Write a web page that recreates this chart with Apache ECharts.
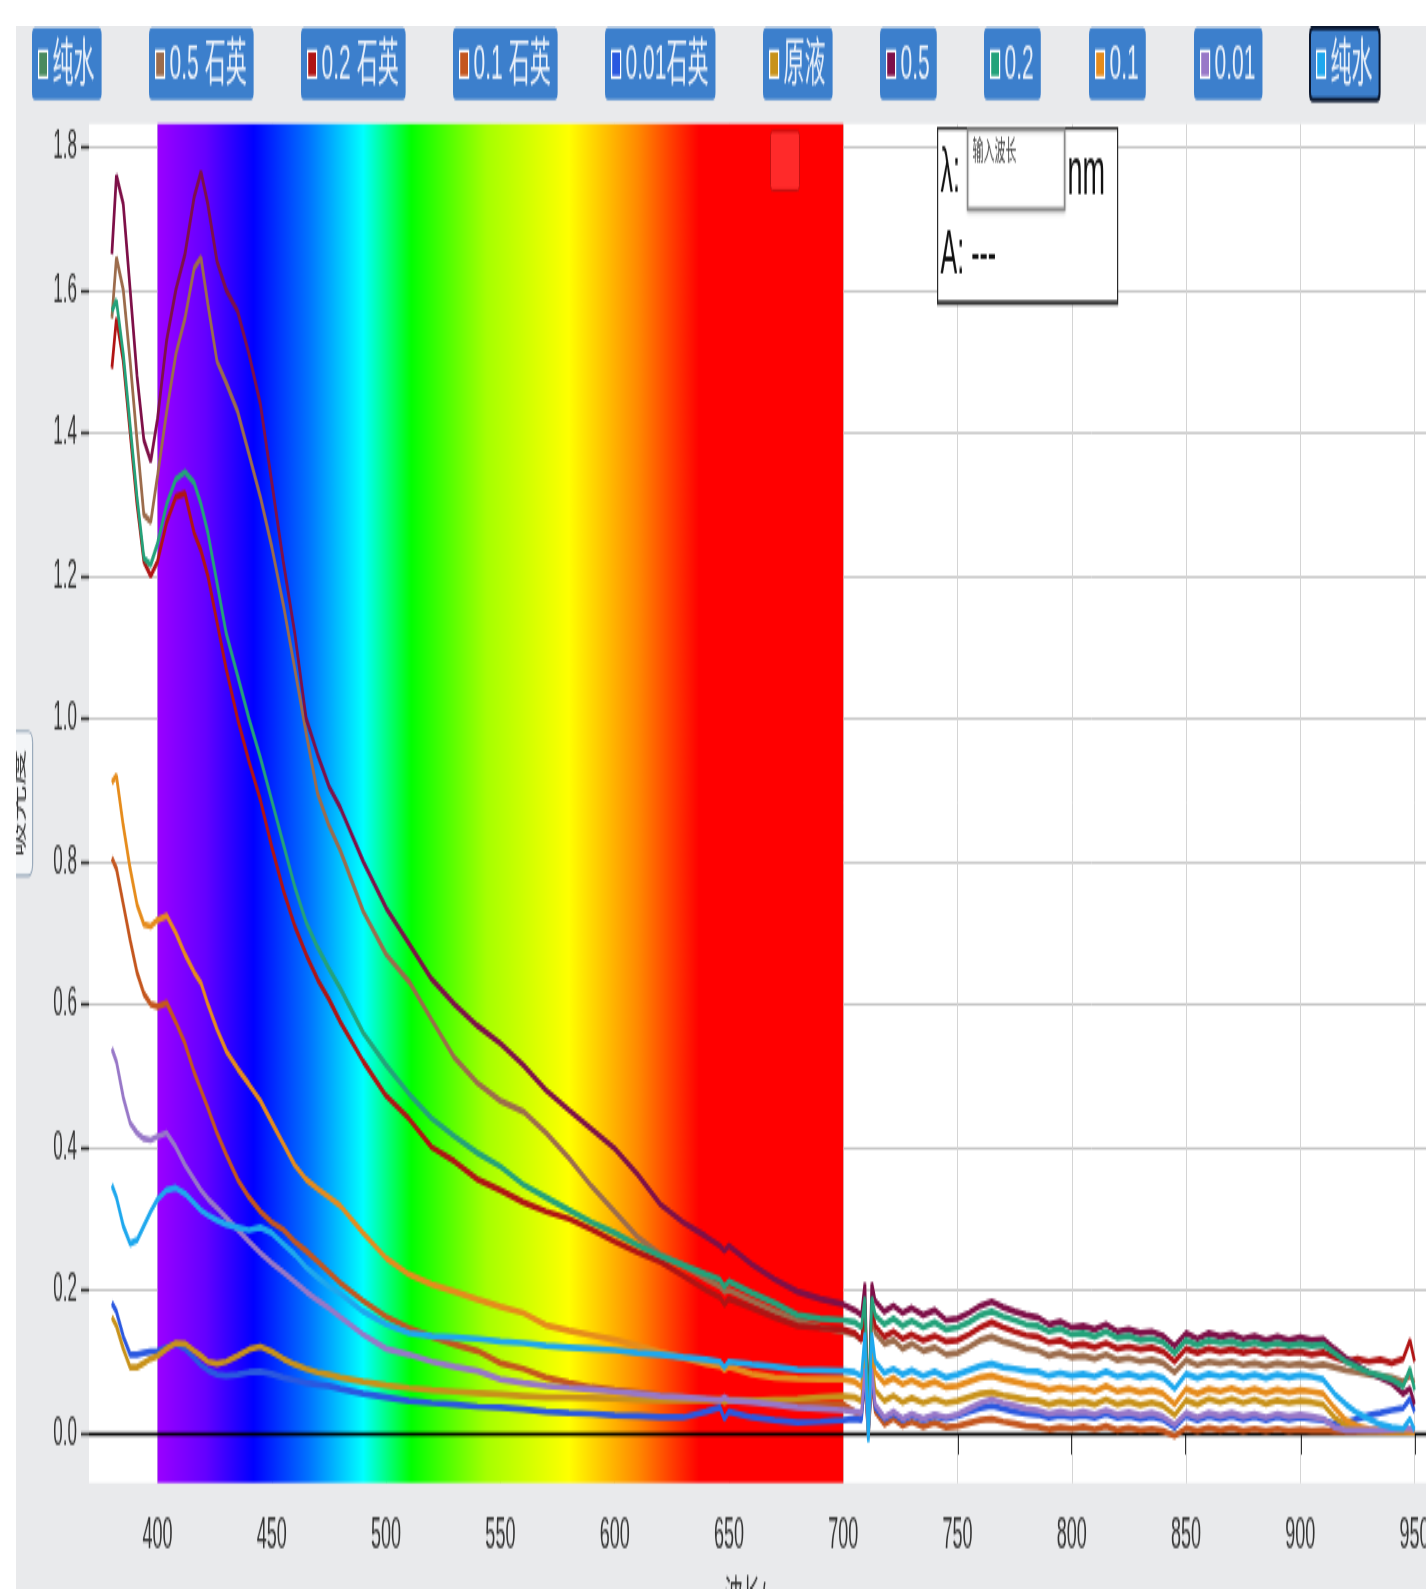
<!DOCTYPE html>
<html><head><meta charset="utf-8">
<script src="https://cdn.jsdelivr.net/npm/echarts@6/dist/echarts.min.js"></script>
<style>
html,body{margin:0;padding:0;background:#fff;width:1426px;height:1589px;overflow:hidden;}
#panel{position:absolute;left:16px;top:26px;width:1410px;height:1563px;background:#e9eaec;overflow:hidden;}
#chart{position:absolute;left:0;top:0;width:1410px;height:651px;transform:scaleY(2.40092);transform-origin:0 0;}
</style></head><body><div id="panel"><div id="chart"></div></div>
<script>
const FONT = '"Liberation Sans","Noto Sans CJK SC",sans-serif';

// wavelength sampling (nm)
const wavelengths = [
380,382,385,388,391,394,397,400,404,408,
412,416,419,422,426,430,435,440,445,450,
455,460,465,470,475,480,490,500,510,520,
530,540,550,560,570,580,590,600,610,620,
630,640,646,648,650,660,670,680,690,700,
705,708,709.5,711,712.5,714,718,722,726,730,
735,740,745,750,755,760,765,770,775,780,
785,790,795,800,805,810,815,820,825,830,
835,840,845,850,855,860,865,870,875,880,
885,890,895,900,905,910,915,920,925,930,
935,940,945,948,950];

const seriesNames = ['纯水','0.5 石英','0.2 石英','0.1 石英','0.01石英','原液','0.5','0.2','0.1','0.01','纯水 '];
const seriesColors = ['#4a8a5e','#9c6c4c','#b01414','#c4561e','#2a58e0','#c8921a','#7e1048','#24a27a','#e68c1c','#9878c8','#1ea8ee'];

const absWater1 = [];
const absQuartz05 = [
1.56,1.645,1.60,1.50,1.39,1.285,1.275,1.34,1.43,1.51,
1.56,1.63,1.645,1.58,1.50,1.47,1.43,1.37,1.31,1.24,
1.16,1.07,0.98,0.895,0.85,0.815,0.73,0.67,0.632,0.578,
0.525,0.49,0.465,0.45,0.42,0.385,0.345,0.31,0.275,0.25,
0.235,0.215,0.205,0.198,0.2,0.185,0.17,0.157,0.148,0.142,
0.138,0.13,0.16,0.01,0.165,0.14,0.125,0.13,0.118,0.125,
0.115,0.12,0.11,0.112,0.12,0.13,0.135,0.128,0.124,0.118,
0.116,0.108,0.112,0.106,0.108,0.104,0.11,0.102,0.105,0.1,
0.103,0.098,0.085,0.102,0.095,0.1,0.097,0.1,0.095,0.098,
0.094,0.098,0.095,0.097,0.094,0.096,0.092,0.088,0.085,0.082,
0.08,0.078,0.072,0.08,0.07];
const absQuartz02 = [
1.49,1.56,1.50,1.40,1.30,1.22,1.20,1.22,1.275,1.31,
1.315,1.26,1.235,1.20,1.135,1.07,1.00,0.94,0.886,0.82,
0.76,0.71,0.67,0.635,0.607,0.575,0.52,0.472,0.44,0.40,
0.38,0.355,0.34,0.323,0.31,0.30,0.285,0.268,0.253,0.24,
0.22,0.2,0.19,0.18,0.188,0.175,0.162,0.15,0.147,0.145,
0.14,0.13,0.18,0.005,0.18,0.15,0.135,0.142,0.132,0.138,
0.13,0.136,0.128,0.13,0.138,0.148,0.155,0.148,0.142,0.137,
0.135,0.127,0.13,0.122,0.125,0.12,0.126,0.118,0.121,0.117,
0.12,0.114,0.1,0.118,0.112,0.118,0.114,0.117,0.112,0.116,
0.111,0.115,0.112,0.114,0.11,0.113,0.106,0.1,0.104,0.1,
0.103,0.098,0.104,0.13,0.1];
const absQuartz01 = [
0.805,0.79,0.74,0.69,0.645,0.615,0.60,0.597,0.602,0.575,
0.545,0.505,0.48,0.455,0.42,0.39,0.355,0.33,0.31,0.295,
0.285,0.268,0.255,0.24,0.225,0.21,0.185,0.163,0.147,0.135,
0.124,0.115,0.098,0.09,0.078,0.07,0.064,0.06,0.057,0.053,
0.05,0.048,0.047,0.044,0.047,0.046,0.045,0.043,0.041,0.04,
0.03,0.025,0.07,-0.005,0.07,0.03,0.012,0.02,0.01,0.016,
0.009,0.015,0.008,0.01,0.014,0.018,0.02,0.016,0.013,0.01,
0.009,0.005,0.008,0.006,0.009,0.005,0.01,0.004,0.007,0.004,
0.006,0.003,-0.004,0.007,0.003,0.007,0.004,0.007,0.003,0.006,
0.003,0.006,0.003,0.005,0.003,0.004,0.002,0.002,0.002,0.002,
0.002,0.002,0.002,0.002,0.002];
const absQuartz001 = [
0.182,0.17,0.135,0.11,0.11,0.112,0.114,0.115,0.12,0.125,
0.118,0.105,0.095,0.088,0.082,0.08,0.082,0.085,0.086,0.083,
0.078,0.074,0.07,0.068,0.066,0.062,0.055,0.05,0.045,0.042,
0.04,0.037,0.036,0.033,0.03,0.028,0.027,0.025,0.024,0.022,
0.022,0.03,0.036,0.02,0.03,0.022,0.018,0.015,0.016,0.018,
0.02,0.018,0.08,-0.004,0.08,0.035,0.02,0.027,0.018,0.025,
0.018,0.024,0.02,0.024,0.03,0.035,0.038,0.034,0.03,0.027,
0.026,0.021,0.025,0.022,0.025,0.021,0.027,0.021,0.024,0.02,
0.023,0.019,0.008,0.024,0.018,0.024,0.02,0.024,0.019,0.023,
0.018,0.023,0.019,0.022,0.02,0.018,0.012,0.015,0.02,0.025,
0.028,0.032,0.035,0.048,0.03];
const absStock = [
0.162,0.15,0.118,0.092,0.092,0.098,0.104,0.108,0.118,0.126,
0.125,0.115,0.108,0.1,0.097,0.1,0.108,0.117,0.121,0.114,
0.104,0.096,0.09,0.085,0.082,0.078,0.072,0.067,0.063,0.06,
0.058,0.056,0.054,0.052,0.05,0.05,0.049,0.048,0.047,0.046,
0.046,0.046,0.047,0.043,0.046,0.045,0.047,0.048,0.05,0.052,
0.05,0.045,0.1,-0.002,0.1,0.06,0.045,0.052,0.043,0.049,
0.042,0.048,0.042,0.045,0.05,0.055,0.057,0.053,0.05,0.047,
0.046,0.04,0.044,0.041,0.044,0.04,0.047,0.04,0.044,0.039,
0.043,0.038,0.025,0.046,0.04,0.048,0.043,0.048,0.042,0.047,
0.041,0.046,0.042,0.045,0.043,0.04,0.022,0.01,0.004,0.003,
0.003,0.003,0.003,0.003,0.002];
const abs05 = [
1.65,1.76,1.72,1.60,1.48,1.39,1.36,1.42,1.53,1.60,
1.65,1.73,1.765,1.72,1.64,1.60,1.57,1.51,1.44,1.33,
1.22,1.12,1.00,0.95,0.905,0.875,0.80,0.735,0.685,0.635,
0.60,0.57,0.545,0.515,0.48,0.452,0.425,0.398,0.362,0.32,
0.295,0.275,0.262,0.255,0.262,0.236,0.215,0.198,0.188,0.18,
0.172,0.165,0.21,0.005,0.21,0.185,0.17,0.178,0.168,0.175,
0.165,0.172,0.158,0.16,0.168,0.178,0.184,0.176,0.17,0.165,
0.162,0.152,0.156,0.148,0.15,0.145,0.152,0.142,0.145,0.14,
0.142,0.136,0.122,0.14,0.132,0.14,0.135,0.138,0.132,0.136,
0.13,0.135,0.13,0.134,0.13,0.132,0.118,0.105,0.095,0.085,
0.078,0.07,0.055,0.062,0.04];
const abs02 = [
1.57,1.585,1.51,1.41,1.31,1.225,1.215,1.245,1.30,1.335,
1.345,1.33,1.30,1.26,1.19,1.12,1.06,1.00,0.945,0.885,
0.825,0.765,0.715,0.68,0.65,0.622,0.56,0.515,0.475,0.44,
0.415,0.392,0.373,0.348,0.33,0.312,0.295,0.28,0.263,0.248,
0.235,0.222,0.215,0.205,0.212,0.196,0.182,0.165,0.16,0.158,
0.155,0.148,0.19,0.008,0.19,0.165,0.152,0.16,0.15,0.157,
0.148,0.155,0.145,0.148,0.155,0.165,0.17,0.163,0.158,0.152,
0.15,0.142,0.146,0.138,0.14,0.135,0.142,0.133,0.136,0.13,
0.132,0.127,0.112,0.13,0.123,0.13,0.126,0.128,0.123,0.127,
0.122,0.126,0.122,0.125,0.122,0.124,0.112,0.1,0.092,0.085,
0.08,0.075,0.065,0.09,0.06];
const abs01 = [
0.91,0.92,0.85,0.79,0.74,0.712,0.709,0.718,0.724,0.70,
0.67,0.645,0.63,0.60,0.565,0.535,0.51,0.488,0.465,0.435,
0.405,0.375,0.355,0.342,0.33,0.318,0.28,0.245,0.222,0.208,
0.198,0.187,0.177,0.168,0.151,0.143,0.137,0.131,0.122,0.113,
0.105,0.097,0.094,0.088,0.093,0.083,0.078,0.076,0.075,0.075,
0.072,0.065,0.12,0.0,0.12,0.085,0.07,0.077,0.068,0.074,
0.066,0.072,0.064,0.066,0.072,0.078,0.08,0.075,0.072,0.068,
0.066,0.06,0.064,0.06,0.063,0.058,0.066,0.058,0.062,0.057,
0.06,0.055,0.04,0.062,0.055,0.062,0.058,0.063,0.057,0.062,
0.056,0.061,0.057,0.06,0.058,0.055,0.035,0.018,0.01,0.006,
0.004,0.003,0.003,0.002,0.002];
const abs001 = [
0.538,0.52,0.47,0.434,0.42,0.412,0.41,0.415,0.42,0.40,
0.375,0.355,0.34,0.328,0.315,0.302,0.285,0.268,0.252,0.238,
0.225,0.212,0.198,0.186,0.175,0.162,0.138,0.118,0.11,0.1,
0.093,0.087,0.075,0.07,0.066,0.063,0.061,0.058,0.055,0.052,
0.05,0.048,0.046,0.05,0.046,0.043,0.04,0.036,0.034,0.032,
0.03,0.028,0.09,0.0,0.09,0.04,0.022,0.03,0.02,0.027,
0.02,0.026,0.022,0.026,0.034,0.042,0.047,0.042,0.038,0.034,
0.032,0.027,0.03,0.027,0.03,0.026,0.032,0.026,0.029,0.025,
0.028,0.023,0.012,0.028,0.022,0.028,0.024,0.028,0.023,0.027,
0.022,0.027,0.023,0.026,0.023,0.02,0.008,0.004,0.004,0.004,
0.004,0.005,0.006,0.006,0.005];
const absWater2 = [
0.347,0.33,0.29,0.265,0.27,0.29,0.31,0.327,0.34,0.343,
0.335,0.322,0.312,0.305,0.298,0.292,0.288,0.284,0.288,0.28,
0.265,0.25,0.232,0.218,0.205,0.195,0.17,0.152,0.14,0.136,
0.134,0.132,0.128,0.126,0.122,0.12,0.118,0.116,0.112,0.11,
0.106,0.103,0.1,0.092,0.1,0.096,0.093,0.089,0.088,0.087,
0.085,0.08,0.14,-0.012,0.14,0.1,0.084,0.09,0.082,0.088,
0.08,0.086,0.078,0.082,0.088,0.094,0.097,0.092,0.09,0.087,
0.086,0.08,0.084,0.08,0.083,0.079,0.086,0.079,0.083,0.078,
0.082,0.077,0.062,0.083,0.077,0.083,0.079,0.083,0.078,0.082,
0.077,0.082,0.078,0.081,0.079,0.075,0.055,0.04,0.028,0.02,
0.012,0.008,0.006,0.02,0.004];

const seriesValues = [absWater1, absQuartz05, absQuartz02, absQuartz01, absQuartz001, absStock, abs05, abs02, abs01, abs001, absWater2];

const xTicks = [400,450,500,550,600,650,700,750,800,850,900,950];
const yTicks = [0,0.2,0.4,0.6,0.8,1.0,1.2,1.4,1.6,1.8];
const spectrumRange = [400, 700];
const legendLefts = [16,133,285,437,589,747,864,968,1073,1178,1294];

const chart = echarts.init(document.getElementById('chart'), null, {renderer:'canvas'});

const dataSeries = seriesNames.map((n, i) => ({
  name: n, type: 'line', z: 2, showSymbol: false, symbol: 'none', silent: true,
  color: seriesColors[i],
  lineStyle: {width: 2.7, color: seriesColors[i]},
  emphasis: {disabled: true},
  data: seriesValues[i].map((v, j) => [wavelengths[j], v])
}));

const option = {
  animation: false,
  grid: {left: 73, top: 40.82, right: 0, bottom: 44.15, show: true, backgroundColor: '#ffffff', borderWidth: 0,
    containLabel: false, outerBoundsMode: 'none'},
  legend: seriesNames.map((n, i) => ({
    data: [n], left: legendLefts[i], top: 0.8, selectedMode: false,
    icon: 'rect', itemWidth: 9, itemHeight: 11, itemGap: 0,
    padding: [4, 7, 4, 6], backgroundColor: '#3c7fcc', borderRadius: 3,
    borderColor: i === 10 ? '#0b1830' : '#3c7fcc', borderWidth: i === 10 ? 2 : 0,
    itemStyle: {borderColor: '#ffffff', borderWidth: 1.2},
    textStyle: {color: '#eaf1fa', fontSize: 21, fontFamily: FONT, lineHeight: 22},
    formatter: s => s.trim()
  })),
  xAxis: {
    type: 'value', min: 370, max: 955,
    axisLine: {show: false}, splitLine: {show: false},
    axisTick: {show: true, length: 9, customValues: xTicks, lineStyle: {color: '#333', width: 2}},
    axisLabel: {customValues: xTicks, fontSize: 18, color: '#333', fontFamily: FONT, margin: 13},
    name: '波长/nm', nameLocation: 'middle', nameGap: 40,
    nameTextStyle: {fontSize: 18, color: '#333', fontFamily: FONT}
  },
  yAxis: {
    type: 'value', min: -0.07, max: 1.832,
    axisLine: {show: false}, splitLine: {show: false},
    axisTick: {show: true, length: 8, customValues: yTicks, lineStyle: {color: '#333', width: 1.4}},
    axisLabel: {customValues: yTicks, formatter: v => v.toFixed(1), fontSize: 17, color: '#333', fontFamily: FONT, margin: 12},
    name: '吸光度', nameLocation: 'middle', nameRotate: 90, nameGap: 57,
    nameTextStyle: {fontSize: 15, color: '#333', fontFamily: FONT, borderColor: '#9aaabb', borderWidth: 1.2,
      borderRadius: 4, padding: [5, 7], backgroundColor: '#f3f5f7'}
  },
  series: [
    { name: 'gridH', type: 'line', data: [], silent: true, z: 1,
      markLine: { silent: true, symbol: ['none','none'], z: 1, label: {show: false},
        lineStyle: {color: '#c6c6c6', width: 1, type: 'solid'},
        data: yTicks.map(v => ({yAxis: v})) } },
    { name: 'gridV', type: 'line', data: [], silent: true, z: 1,
      markLine: { silent: true, symbol: ['none','none'], z: 1, label: {show: false},
        lineStyle: {color: '#d4d4d4', width: 1, type: 'solid'},
        data: xTicks.map(v => ({xAxis: v})) } },
    { name: 'spectrum', type: 'line', data: [], silent: true, z: 1,
      markArea: { silent: true, z: 1.5, label: {show: false},
        itemStyle: { color: { type: 'linear', x: 0, y: 0, x2: 1, y2: 0, colorStops: [
          {offset: 0, color: '#9b00ff'}, {offset: 0.07, color: '#6400ff'}, {offset: 0.14, color: '#0000ff'},
          {offset: 0.22, color: '#0072ff'}, {offset: 0.3, color: '#00ffff'}, {offset: 0.37, color: '#00ff00'},
          {offset: 0.48, color: '#a6ff00'}, {offset: 0.6, color: '#ffff00'}, {offset: 0.7, color: '#ff8a00'},
          {offset: 0.79, color: '#ff0000'}, {offset: 1, color: '#ff0000'}]}},
        data: [[{xAxis: spectrumRange[0]}, {xAxis: spectrumRange[1]}]] } },
    { name: 'zero', type: 'line', data: [], silent: true, z: 1,
      markLine: { silent: true, symbol: ['none','none'], z: 1.8, label: {show: false},
        lineStyle: {color: '#000000', width: 1.3, type: 'solid'},
        data: [{yAxis: 0}] } }
  ].concat(dataSeries),
  graphic: [
    { type: 'rect', left: 754, top: 43.3, z: 100, silent: true,
      shape: {width: 29, height: 24.6, r: 2},
      style: {fill: '#ff2a2a', stroke: '#c41010', lineWidth: 1} },
    { type: 'group', left: 921, top: 42.07, z: 100, silent: true, children: [
      { type: 'rect', z: 100, shape: {x: 0, y: 0, width: 180, height: 72.9},
        style: {fill: '#ffffff', stroke: '#2a2a2a', lineWidth: 1.2} },
      { type: 'rect', z: 101, shape: {x: 0, y: 71.6, width: 180, height: 1.7}, style: {fill: '#333333'} },
      { type: 'rect', z: 101, shape: {x: 30, y: 0.4, width: 97, height: 33.3},
        style: {fill: '#ffffff', stroke: '#8a8a8a', lineWidth: 1.5, shadowColor: 'rgba(0,0,0,0.25)', shadowBlur: 2, shadowOffsetY: 0.5} },
      { type: 'text', z: 102, style: {text: '输入波长', x: 35, y: 9, fontSize: 11, fill: '#444', fontFamily: '"Noto Sans CJK SC",sans-serif', verticalAlign: 'middle'} },
      { type: 'text', z: 102, style: {text: 'λ:', x: 3, y: 19.5, fontSize: 25, fill: '#111', fontFamily: FONT, verticalAlign: 'middle'} },
      { type: 'text', z: 102, style: {text: 'nm', x: 130, y: 20, fontSize: 27, fill: '#111', fontFamily: FONT, verticalAlign: 'middle'} },
      { type: 'text', z: 102, style: {text: 'A: ---', x: 3, y: 53.3, fontSize: 25, fill: '#111', fontFamily: FONT, verticalAlign: 'middle'} }
    ]}
  ]
};
chart.setOption(option);
</script>
</body></html>
